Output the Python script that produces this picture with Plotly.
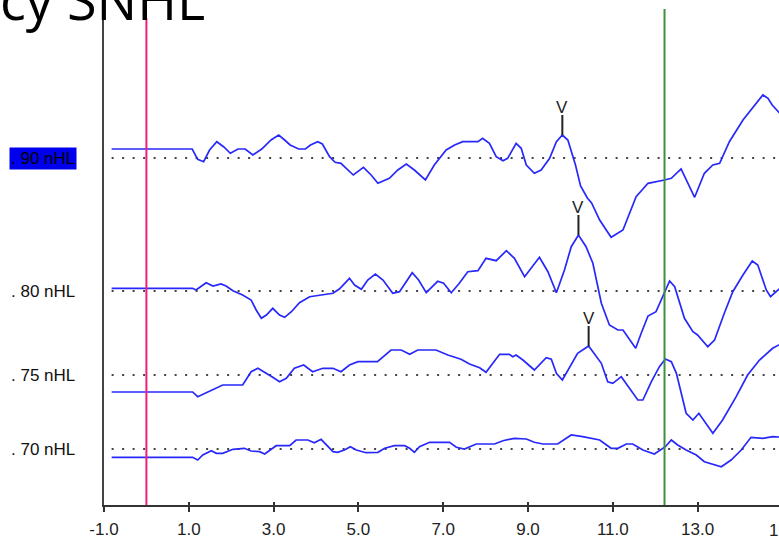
import plotly.graph_objects as go

# ---- data (latency in ms, amplitude relative to each trace baseline) ----
levels = [". 90 nHL", ". 80 nHL", ". 75 nHL", ". 70 nHL"]
trace_offsets = [347, 214, 130, 56]

t90 = [-0.82, 1.08, 1.21, 1.35, 1.49, 1.66, 1.82, 1.98, 2.16, 2.33, 2.51, 2.72, 2.94, 3.12, 3.26, 3.39,
       3.59, 3.75, 3.87, 4.04, 4.15, 4.32, 4.45, 4.59, 4.67, 4.79, 4.88, 5.12, 5.30, 5.46, 5.73, 5.93,
       6.13, 6.32, 6.58, 6.79, 7.07, 7.27, 7.46, 7.82, 7.93, 8.09, 8.25, 8.41, 8.52, 8.72, 8.84, 8.96,
       9.15, 9.31, 9.51, 9.67, 9.81, 9.94, 10.06, 10.12, 10.24, 10.40, 10.50, 10.69, 10.96, 11.24,
       11.55, 11.83, 12.22, 12.38, 12.61, 12.93, 13.16, 13.36, 13.52, 13.75, 14.07, 14.38, 14.54,
       14.66, 14.76, 14.91, 15.0]
a90 = [9, 9, -1.3, -3.7, 8, 16.3, 11.3, 4.7, 9, 9, 3, 9, 18, 23, 18, 13,
       9, 9, 13, 16.3, 14, 1.3, -4.3, -5.3, -8.7, -13.7, -17, -9.3, -17, -25.3, -20.3, -12,
       -6, -12, -22, -7, 8, 13, 16.3, 16.3, 19.7, 14.7, 1.3, -2.7, -0.3, 14.7, 9.7, -7,
       -15.3, -12, -0.3, 16.3, 23, 18, 1.3, -7, -28, -40, -45, -62, -79.3, -72,
       -38.7, -25.3, -22, -20.3, -11, -39.3, -15.3, -7, -5.3, 16.3, 38, 54.7, 63,
       59.7, 53, 46, 42]

t80 = [-0.82, 1.09, 1.17, 1.41, 1.57, 1.76, 1.88, 2.04, 2.27, 2.47, 2.59, 2.71, 2.83, 2.98, 3.14, 3.26,
       3.42, 3.61, 3.85, 4.08, 4.40, 4.55, 4.79, 4.91, 5.07, 5.22, 5.40, 5.58, 5.81, 5.97, 6.27, 6.42,
       6.60, 6.87, 7.01, 7.19, 7.38, 7.58, 7.82, 8.01, 8.25, 8.49, 8.68, 8.92, 9.27, 9.47, 9.67, 9.86,
       10.02, 10.19, 10.37, 10.53, 10.73, 10.92, 11.12, 11.24, 11.54, 11.67, 11.83, 12.02, 12.22,
       12.34, 12.46, 12.69, 12.89, 13.00, 13.24, 13.40, 13.63, 13.83, 14.07, 14.29, 14.42, 14.62,
       14.72, 14.81, 14.91, 15.0]
a80 = [2.7, 2.7, 1, 8.3, 5, 7, 5, 0.3, -4, -9, -19, -27.3, -24, -17.3, -24, -26.3,
       -20.7, -11.7, -5.7, -4, -2.3, 2, 12.7, 6, 1.7, 11, 17, 11, -2.3, -0.7, 18.3, 11,
       -1.7, 9.7, 7.7, -1.7, 7.7, 19.3, 20.3, 32.7, 30.3, 40.3, 32.7, 14.3, 33.7, 19.3, -1.7, 21,
       44.3, 56, 44.3, 27.7, -12.3, -34, -39, -39, -57.3, -42.3, -25, -20.7, -0.7,
       10, 4.3, -27.3, -40.7, -44, -55.7, -49, -22.3, -0.7, 16, 30, 26, 1,
       -5.7, -2.3, 2, 5]

t75 = [-0.82, 1.09, 1.21, 1.41, 1.57, 1.80, 2.27, 2.47, 2.63, 2.81, 2.98, 3.14, 3.30, 3.49, 3.71, 3.92,
       4.16, 4.40, 4.59, 4.79, 4.99, 5.45, 5.77, 6.01, 6.21, 6.40, 6.83, 7.11, 7.42, 7.62, 7.86, 8.01,
       8.33, 8.56, 8.64, 8.72, 8.88, 9.15, 9.43, 9.55, 9.67, 9.81, 9.98, 10.17, 10.43, 10.61, 10.73,
       10.88, 11.00, 11.20, 11.39, 11.59, 11.71, 11.91, 12.10, 12.24, 12.38, 12.50, 12.73, 12.89,
       13.03, 13.20, 13.36, 13.59, 13.91, 14.18, 14.46, 14.77, 14.91, 15.0]
a75 = [-17, -17, -21.7, -17.7, -15, -10, -10, 3.3, 6.7, 2.3, -2.3, -6.7, -3.3, 6.7, 10, 3.3,
       6.7, 6.7, 3.3, 10, 13.3, 13.3, 25, 25, 20.7, 25, 25, 20, 15.7, 11, 7.3, 2.7,
       20.7, 20.7, 18.3, 20, 15, 5, 17.3, 15.7, 1.7, -5, 8.3, 21.7, 29, 18.3, 11.7,
       -6.7, -8.3, -1.7, -13.3, -25, -25, -6.7, 8.3, 16, 13.3, 1.7, -38.3, -45,
       -38.3, -48.3, -58.3, -45, -21.7, 0, 15, 26.7, 30, 32]

t70 = [-0.82, 1.09, 1.21, 1.33, 1.53, 1.65, 1.80, 2.04, 2.31, 2.47, 2.67, 2.79, 3.06, 3.38, 3.53, 3.81,
       3.96, 4.12, 4.40, 4.51, 4.67, 4.81, 4.95, 5.18, 5.46, 5.62, 5.85, 6.09, 6.21, 6.32, 6.44, 6.68,
       7.15, 7.31, 7.50, 7.78, 8.21, 8.41, 8.68, 8.96, 9.15, 9.35, 9.70, 9.94, 10.02, 10.29, 10.69,
       10.96, 11.12, 11.32, 11.47, 11.71, 11.98, 12.24, 12.38, 12.53, 12.73, 12.97, 13.16, 13.56,
       13.79, 14.03, 14.26, 14.54, 14.77, 14.91, 15.0]
a70 = [-8.3, -8.3, -11, -6, -1.7, -4.3, -4.3, -0.3, 0.7, -2, -2.7, -5, 3.3, 3.3, 9, 9,
       6.3, 9.7, -2.7, -3.3, -1, 2.3, -1, -3.7, -3.3, 0.7, 3.3, 3.3, 0.7, -3.3, 2.3, 6.7,
       6.7, 1.7, 0, 5, 5, 8.3, 10.7, 10, 6.7, 5, 5, 11.3, 14, 12.3, 9,
       0.7, 0.7, 5, 5, -1, -5, 2.3, 9, 4, -1, -6, -12.7, -17.7,
       -11, -1, 11.7, 10.7, 12.3, 12, 12]

times = [t90, t80, t75, t70]
amps = [a90, a80, a75, a70]

# wave V marks: trace index, latency, amplitude
v_trace = [0, 1, 2]
v_latency = [9.81, 10.19, 10.43]
v_amp = [23, 56, 29]

cursor_latency = [0.0, 12.22]
cursor_top = [487, 496]
cursor_colors = ["#f0207a", "#3f8f3f"]

x_ticks = [-1, 1, 3, 5, 7, 9, 11, 13, 15]
x_tick_labels = ["-1.0", "1.0", "3.0", "5.0", "7.0", "9.0", "11.0", "13.0", "15.0"]

# ---- figure ----
fig = go.Figure()
WAVE = "rgb(40,40,250)"
V_TICK = 20
TICKFONT = dict(family="Liberation Sans, Arial", size=17, color="#222222")
X_RANGE = [-1, 14.92]

for i, (t, a) in enumerate(zip(times, amps)):
    off = trace_offsets[i]
    # dotted baseline
    fig.add_trace(go.Scatter(x=[t[0], 15.0], y=[off, off], mode="lines",
                             line=dict(color="#444444", width=2, dash="2px,8.5px"),
                             hoverinfo="skip", showlegend=False))
    fig.add_trace(go.Scatter(x=t, y=[off + v for v in a], mode="lines",
                             line=dict(color=WAVE, width=1.7),
                             hoverinfo="skip", showlegend=False))

for k, idx in enumerate(v_trace):
    yb = trace_offsets[idx] + v_amp[k]
    fig.add_trace(go.Scatter(x=[v_latency[k], v_latency[k]], y=[yb, yb + V_TICK], mode="lines",
                             line=dict(color="#222222", width=2),
                             hoverinfo="skip", showlegend=False))
    fig.add_annotation(x=v_latency[k], y=yb + V_TICK, xref="x", yref="y", text="V",
                       showarrow=False, yanchor="bottom", yshift=-4,
                       font=dict(family="Liberation Sans, Arial", size=17, color="#222222"))

# invisible trace to carry the overlay axis (inner half of crossing ticks)
fig.add_trace(go.Scatter(x=[x_ticks[0]], y=[trace_offsets[-1]], xaxis="x2", mode="markers",
                         marker=dict(opacity=0), hoverinfo="skip", showlegend=False))

for c, top, col in zip(cursor_latency, cursor_top, cursor_colors):
    fig.add_shape(type="line", x0=c, x1=c, y0=0, y1=top, xref="x", yref="y",
                  line=dict(color=col, width=2))

for i, lab in enumerate(levels):
    if i == 0:
        fig.add_annotation(x=-0.04, y=trace_offsets[i], xref="paper", yref="y", text=lab,
                           showarrow=False, xanchor="right", yanchor="middle",
                           bgcolor="#0000ee", borderpad=1,
                           font=dict(family="Liberation Sans, Arial", size=17, color="#000000"))
    else:
        fig.add_annotation(x=-0.04, y=trace_offsets[i], xref="paper", yref="y", text=lab,
                           showarrow=False, xanchor="right", yanchor="middle",
                           font=dict(family="Liberation Sans, Arial", size=17, color="#111111"))

# last tick label, only partly inside the window (placed in paper units along the x scale)
fig.add_annotation(x=(x_ticks[-1] - X_RANGE[0]) / (X_RANGE[1] - X_RANGE[0]), y=-0.05,
                   xref="paper", yref="paper", text=x_tick_labels[-1], xshift=3,
                   showarrow=False, xanchor="center", yanchor="middle", font=TICKFONT)

fig.add_annotation(x=(207 - 104) / 675, y=0.925, xref="paper", yref="paper", text="cy SNHL",
                   showarrow=False, xanchor="right", yanchor="bottom",
                   font=dict(family="Open Sans", size=54, color="#000000"))

fig.update_layout(
    width=779, height=549,
    margin=dict(l=104, r=0, t=0, b=44),
    paper_bgcolor="white", plot_bgcolor="white",
    showlegend=False,
    xaxis=dict(range=X_RANGE, tickvals=x_ticks[:-1], ticktext=x_tick_labels[:-1],
               showgrid=False, zeroline=False, showline=True, linecolor="#333333", linewidth=2,
               ticks="outside", ticklen=5, tickwidth=2, tickcolor="#333333",
               tickfont=TICKFONT, ticklabelstandoff=3),
    xaxis2=dict(range=X_RANGE, overlaying="x", anchor="y", side="bottom",
                tickvals=x_ticks[:-1], showticklabels=False, showgrid=False, zeroline=False,
                showline=False, ticks="inside", ticklen=3, tickwidth=2, tickcolor="#333333"),
    yaxis=dict(range=[0, 505], showgrid=False, zeroline=False, showticklabels=False,
               showline=True, linecolor="#444444", linewidth=2, ticks=""),
)

fig.write_html("out.html", config={"displayModeBar": False},
               post_script="document.body.style.margin='0';document.body.style.overflow='hidden';")
